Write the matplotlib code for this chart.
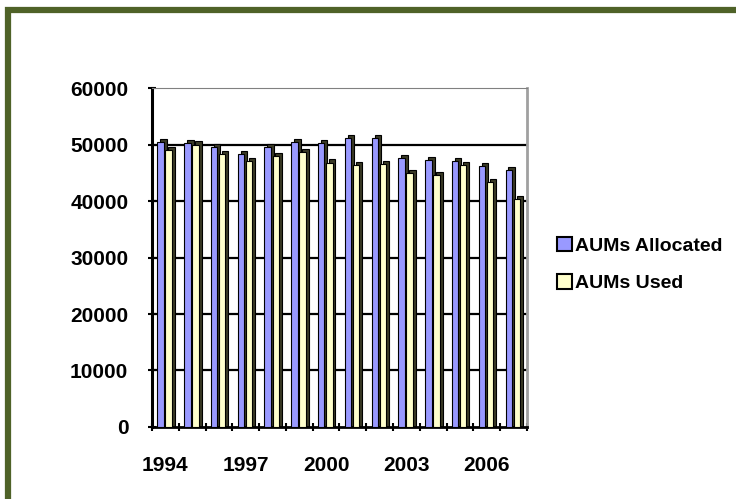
import numpy as np
import matplotlib.pyplot as plt
from matplotlib.patches import Rectangle, Patch

plt.rcParams['font.family'] = ['Liberation Sans', 'DejaVu Sans']
plt.rcParams['font.weight'] = 'bold'

# data
years = list(range(1994, 2008))
allocated = [50400, 50300, 49500, 48300, 49500, 50400, 50300, 51100, 51100, 47600, 47300, 47000, 46200, 45500]
used = [49000, 50000, 48300, 47000, 48000, 48700, 46800, 46300, 46500, 45000, 44600, 46300, 43400, 40400]
tick_years = [1994, 1997, 2000, 2003, 2006]

c_alloc = '#9999ff'
c_used = '#ffffcc'
c_side = '#3a3a26'

fig = plt.figure(figsize=(7.36, 4.99), dpi=100)
# dark green frame
fig.patches.append(Rectangle((0.0105, -0.02), 1.2, 1.0, transform=fig.transFigure,
                             facecolor='white', edgecolor='#4f6228', linewidth=4.5, zorder=-5))

ax = fig.add_axes([0.2065, 0.1443, 0.5095, 0.6793])
x = np.arange(len(years))
w = 0.24
dx = 0.11   # fake 3d depth
dy = 550

# left wall shadow
ax.axvspan(0, 0.08, color='#b0b0b0', zorder=0.5, lw=0)

# back grid lines
for g in range(10000, 60000, 10000):
    ax.axhline(g, color='black', lw=1.6, zorder=1)

for vals, off, col in [(allocated, 0.2, c_alloc), (used, 0.5, c_used)]:
    ax.bar(x + off + dx, np.array(vals) + dy, width=w, bottom=0, align='edge',
           color=c_side, edgecolor='black', linewidth=0.8, zorder=2)
    ax.bar(x + off, vals, width=w, align='edge', color=col,
           edgecolor='black', linewidth=0.8, zorder=3)

ax.set_xlim(0, len(years))
ax.set_ylim(0, 60000)
ax.set_yticks(range(0, 60001, 10000))
ax.set_xticks(np.arange(len(years) + 1))
ax.set_xticklabels([])
ax.set_xticks([years.index(t) + 0.5 for t in tick_years], minor=True)
ax.set_xticklabels([str(t) for t in tick_years], minor=True)
ax.tick_params(axis='x', which='minor', length=0, pad=21, labelsize=15)
ax.tick_params(axis='x', which='major', length=6, width=1.5, direction='inout')
ax.tick_params(axis='y', length=6, width=1.5, direction='inout', labelsize=15, pad=14)

ax.spines['left'].set_linewidth(2.2)
ax.spines['bottom'].set_linewidth(2)
ax.spines['top'].set_color('#808080')
ax.spines['right'].set_color('#a0a0a0')
ax.spines['right'].set_linewidth(2)

handles = [Patch(facecolor=c_alloc, edgecolor='black', linewidth=1.5, label='AUMs Allocated'),
           Patch(facecolor=c_used, edgecolor='black', linewidth=1.5, label='AUMs Used')]
fig.legend(handles=handles, loc='upper left', bbox_to_anchor=(0.733, 0.56),
           frameon=False, fontsize=14, handlelength=0.75, handleheight=0.75,
           handletextpad=0.2, labelspacing=1.0)

fig.savefig('out.png', dpi=100)
